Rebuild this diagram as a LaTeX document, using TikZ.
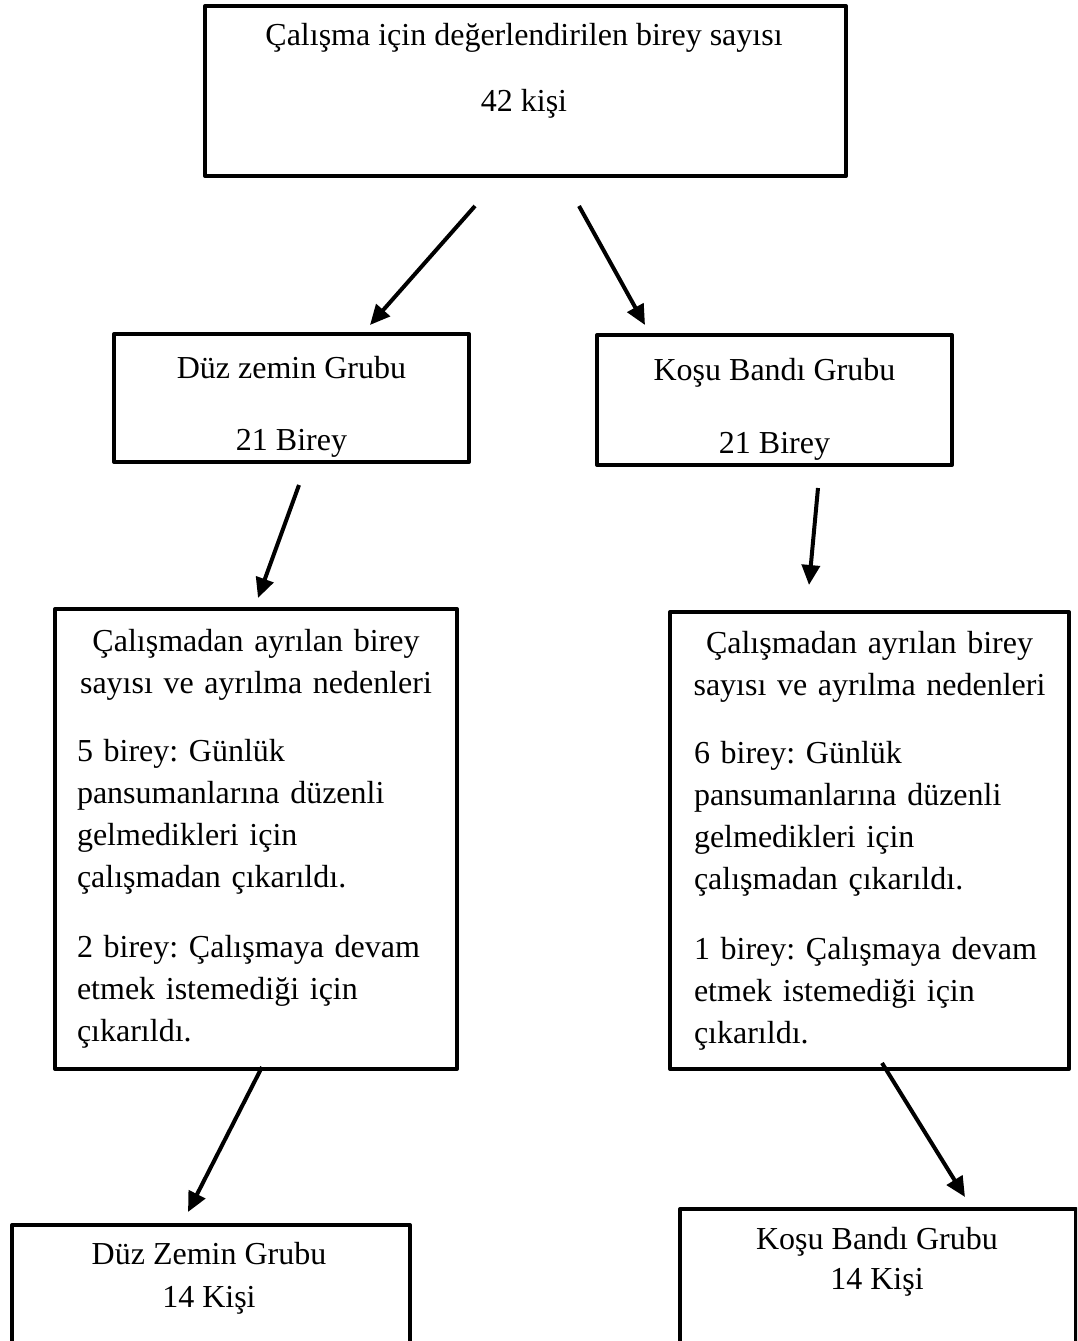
\documentclass[tikz,border=0pt]{standalone}
\usepackage{fontspec}
\setmainfont{Liberation Serif}
\usetikzlibrary{arrows.meta}
\begin{document}
\frenchspacing
\begin{tikzpicture}[x=1pt,y=-1pt,
  box/.style={draw, line width=4pt, line join=round, inner sep=0pt, anchor=north west,
              font=\fontsize{32}{42}\selectfont\frenchspacing, align=center},
  bigbox/.style={box, align=left},
  txt/.style={font=\fontsize{32}{42}\selectfont\frenchspacing, align=center, inner sep=0pt},
  arr/.style={line width=4pt, -{Triangle[length=20pt,width=18pt]}}]
\useasboundingbox (0,0) rectangle (1077,1341);
\clip (0,0) rectangle (1077,1341);

% top box
\node[box, minimum width=641pt, minimum height=170pt] (top) at (203,4) {};
\node[txt] (toptext) at (524,71) {Çalışma için değerlendirilen birey sayısı\\[24pt]42 kişi};

% middle boxes
\node[box, minimum width=355pt, minimum height=128pt] (dz) at (112,332) {\rule{0pt}{40pt}Düz zemin Grubu\\[30pt]21 Birey};
\node[box, minimum width=355pt, minimum height=130pt] (kb) at (595,333) {\rule{0pt}{40pt}Koşu Bandı Grubu\\[31pt]21 Birey};

% big boxes
\node[bigbox, minimum width=402pt, minimum height=460pt, text width=358pt] (dzc) at (53,607)
{\makebox[\linewidth][c]{Çalışmadan ayrılan birey}\\
\makebox[\linewidth][c]{sayısı ve ayrılma nedenleri}\par
\vspace{26pt}
5 birey: Günlük\\pansumanlarına düzenli\\gelmedikleri için\\çalışmadan çıkarıldı.\par
\vspace{28pt}
2 birey: Çalışmaya devam\\etmek istemediği için\\çıkarıldı.};

\node[bigbox, minimum width=399pt, minimum height=457pt, text width=351pt] (kbc) at (668,610)
{\makebox[\linewidth][c]{Çalışmadan ayrılan birey}\\
\makebox[\linewidth][c]{sayısı ve ayrılma nedenleri}\par
\vspace{26pt}
6 birey: Günlük\\pansumanlarına düzenli\\gelmedikleri için\\çalışmadan çıkarıldı.\par
\vspace{28pt}
1 birey: Çalışmaya devam\\etmek istemediği için\\çıkarıldı.};

% bottom boxes
\node[box, minimum width=398pt, minimum height=160pt] (dzs) at (10,1223) {};
\node[txt] (dzst) at (209,1278) {Düz Zemin Grubu\\[1pt]14 Kişi};
\node[box, minimum width=396pt, minimum height=170pt] (kbs) at (678,1207) {};
\node[txt] (kbst) at (877,1262) {Koşu Bandı Grubu\\[-2pt]14 Kişi};

% arrow end points
\coordinate (a1s) at (475,206);
\coordinate (a1e) at (370,325);
\coordinate (a2s) at (579,206);
\coordinate (a2e) at (645,325);
\coordinate (a3s) at (299,485);
\coordinate (a3e) at (258,598);
\coordinate (a4s) at (818,488);
\coordinate (a4e) at (809,585);
\coordinate (a5s) at (262,1067);
\coordinate (a5e) at (188,1212);
\coordinate (a6s) at (882,1063);
\coordinate (a6e) at (965,1197);

\draw[arr] (a1s) -- (a1e);
\draw[arr] (a2s) -- (a2e);
\draw[arr] (a3s) -- (a3e);
\draw[arr] (a4s) -- (a4e);
\draw[arr] (a5s) -- (a5e);
\draw[arr] (a6s) -- (a6e);
\end{tikzpicture}
\end{document}
